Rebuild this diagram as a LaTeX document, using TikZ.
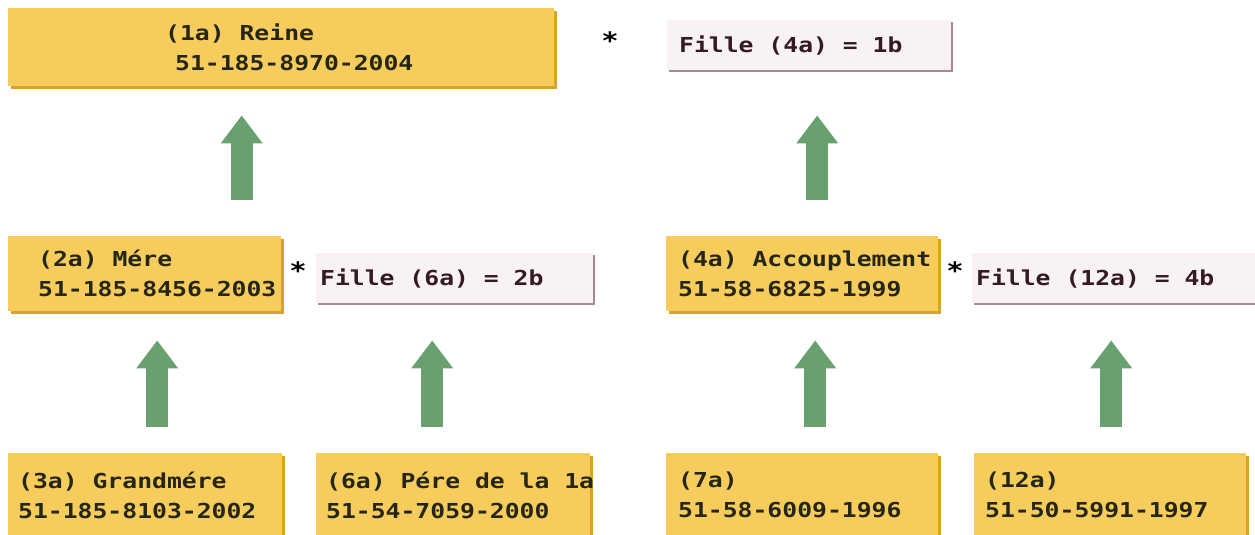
\documentclass[tikz,border=0pt]{standalone}
\usepackage{fontspec}
\newfontfamily\boxfont{DejaVu Sans Mono}[FakeStretch=1.2]
\newcommand\boxtype{\boxfont\bfseries\fontsize{20.6}{30}\selectfont}
\newcommand\gap{\phantom{0}}
\usetikzlibrary{arrows.meta,shadows}
\definecolor{boxyellow}{RGB}{246,204,92}
\definecolor{boxshade}{RGB}{214,164,42}
\definecolor{boxtext}{RGB}{38,38,22}
\definecolor{fillepink}{RGB}{248,242,244}
\definecolor{filleedge}{RGB}{170,135,148}
\definecolor{filletext}{RGB}{52,26,34}
\definecolor{arrowgreen}{RGB}{104,160,112}
\begin{document}
\begin{tikzpicture}
[x=1pt, y=-1pt, font=\boxtype]
\tikzstyle{ind}=[anchor=north west, fill=boxyellow, text=boxtext, align=left, general shadow={fill=boxshade, shadow xshift=3pt, shadow yshift=-3pt}]
\tikzstyle{fille}=[anchor=north west, fill=fillepink, text=filletext, align=left, minimum height=50, general shadow={fill=filleedge, shadow xshift=2pt, shadow yshift=-2pt}]
\tikzstyle{star}=[inner sep=0pt, text=black, font=\boxfont\bfseries\fontsize{24}{30}\selectfont]
\tikzstyle{up}=[line width=22pt, arrowgreen, -{Triangle[length=28pt,width=40pt]}]
\useasboundingbox[fill=white] (0,0) rectangle (1255,535);

\node[ind, minimum width=546, minimum height=78, text width=232, inner xsep=157]	(R1a)	at (8,8)	{\mbox{(1a)\gap Reine}\\\hspace*{10pt}\mbox{51-185-8970-2004}};
\node[star]	(S1)	at (610,41)	{*};
\node[fille, minimum width=284, text width=260, inner xsep=12]	(F4a)	at (667,20)	{\mbox{Fille\gap(4a)\gap=\gap1b}};

\node[ind, minimum width=273, minimum height=75, text width=213, inner xsep=30]	(M2a)	at (8,236)	{\mbox{(2a)\gap Mére}\\\mbox{51-185-8456-2003}};
\node[star]	(S2)	at (298,271)	{*};
\node[fille, minimum width=277, text width=269, inner xsep=4]	(F6a)	at (316,253)	{\mbox{Fille\gap(6a)\gap=\gap2b}};
\node[ind, minimum width=272, minimum height=75, text width=248, inner xsep=12]	(A4a)	at (666,236)	{\mbox{(4a)\gap Accouplement}\\\mbox{51-58-6825-1999}};
\node[star]	(S3)	at (955,271)	{*};
\node[fille, minimum width=300, text width=292, inner xsep=4]	(F12a)	at (972,253)	{\mbox{Fille\gap(12a)\gap=\gap4b}};

\node[ind, minimum width=274, minimum height=84, text width=254, inner xsep=10]	(G3a)	at (8,453)	{\mbox{(3a)\gap Grandmére}\\\mbox{51-185-8103-2002}};
\node[ind, minimum width=274, minimum height=84, text width=254, inner xsep=10]	(P6a)	at (316,453)	{\mbox{(6a)\gap Pére\gap de\gap la\gap 1a}\\\mbox{51-54-7059-2000}};
\node[ind, minimum width=272, minimum height=84, text width=248, inner xsep=12]	(I7a)	at (666,453)	{\mbox{(7a)}\\\mbox{51-58-6009-1996}};
\node[ind, minimum width=272, minimum height=84, text width=250, inner xsep=11]	(I12a)	at (974,453)	{\mbox{(12a)}\\\mbox{51-50-5991-1997}};

\draw[up, shorten <=36pt, shorten >=29pt]	([xshift=97pt]M2a.north) -- ([xshift=97pt]M2a.north |- R1a.south);
\draw[up, shorten <=36pt, shorten >=45pt]	([xshift=15pt]A4a.north) -- ([xshift=15pt]A4a.north |- F4a.south);
\draw[up, shorten <=26pt, shorten >=29pt]	([xshift=12pt]G3a.north) -- ([xshift=12pt]G3a.north |- M2a.south);
\draw[up, shorten <=26pt, shorten >=37pt]	([xshift=-21pt]P6a.north) -- ([xshift=-21pt]P6a.north |- F6a.south);
\draw[up, shorten <=26pt, shorten >=29pt]	([xshift=13pt]I7a.north) -- ([xshift=13pt]I7a.north |- A4a.south);
\draw[up, shorten <=26pt, shorten >=37pt]	([xshift=1pt]I12a.north) -- ([xshift=1pt]I12a.north |- F12a.south);
\end{tikzpicture}
\end{document}
